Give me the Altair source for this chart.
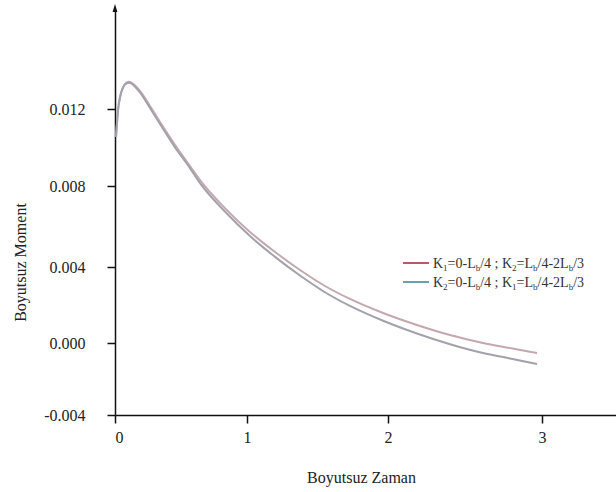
import altair as alt
import pandas as pd

# ---- data ----
t_vals = [0.008, 0.023, 0.038, 0.061, 0.085, 0.106, 0.127, 0.152, 0.189, 0.265, 0.341,
          0.455, 0.568, 0.644, 0.833, 1.021, 1.199, 1.376, 1.553, 1.730, 1.965,
          2.188, 2.403, 2.617, 2.792, 2.968]
upper = [0.01055, 0.01195, 0.01262, 0.01314, 0.01336, 0.01341, 0.01336, 0.01322, 0.01294,
         0.01216, 0.01132, 0.01013, 0.00904, 0.00831, 0.00691, 0.00573, 0.00474,
         0.00384, 0.00300, 0.00232, 0.00158, 0.00095, 0.00042, 0.00000, -0.00028,
         -0.00056]
lower = [0.01055, 0.01195, 0.01260, 0.01311, 0.01332, 0.01336, 0.01331, 0.01315, 0.01286,
         0.01205, 0.01122, 0.01000, 0.00893, 0.00815, 0.00674, 0.00553, 0.00450,
         0.00355, 0.00267, 0.00195, 0.00117, 0.00050, -0.00007, -0.00056, -0.00086,
         -0.00117]
series_names = ["A", "B"]
x_ticks = [0, 1, 2, 3]
y_ticks = [-0.004, 0.0, 0.004, 0.008, 0.012]

FONT = "Liberation Serif"
W, H = 501, 405
LEFT, TOP = 115, 10

rows = []
for t, u, l in zip(t_vals, upper, lower):
    rows.append({"t": t, "v": u, "s": "A"})
    rows.append({"t": t, "v": l, "s": "B"})
df = pd.DataFrame(rows)

xscale = alt.Scale(domain=[0, 1, 2, 3, 3.48], range=[0, 132, 273, 427, 501],
                   nice=False, zero=False)
yscale = alt.Scale(domain=[-0.004, 0.0, 0.004, 0.008, 0.012, 0.01714],
                   range=[405, 333, 257, 176, 99, 0], nice=False, zero=False)

lines = alt.Chart(df).mark_line(strokeWidth=2, interpolate="monotone").encode(
    x=alt.X("t:Q", scale=xscale,
            axis=alt.Axis(values=x_ticks, title="Boyutsuz Zaman", format="d",
                          grid=False, tickSize=8, labelPadding=6,
                          labelFontSize=16, titleFontSize=16, titleFontWeight="normal",
                          titleX=246, titleY=62, titleBaseline="middle",
                          domainColor="#111", tickColor="#111", domainWidth=1.5,
                          tickWidth=1.5, labelColor="#222", titleColor="#222",
                          labelFont=FONT, titleFont=FONT)),
    y=alt.Y("v:Q", scale=yscale,
            axis=alt.Axis(values=y_ticks, title="Boyutsuz Moment",
                          labelExpr="datum.value < 0 ? '-' + format(-datum.value, '.3f') : format(datum.value, '.3f')",
                          grid=False, tickSize=8, labelPadding=22,
                          labelFontSize=16, titleFontSize=16, titleFontWeight="normal",
                          titleX=-95, titleY=252, titleAngle=-90, titleAlign="center",
                          titleBaseline="middle",
                          domainColor="#111", tickColor="#111", domainWidth=1.5,
                          tickWidth=1.5, labelColor="#222", titleColor="#222",
                          labelFont=FONT, titleFont=FONT)),
    color=alt.Color("s:N", scale=alt.Scale(domain=series_names,
                                           range=["#c4a8b0", "#a2a2aa"]),
                    legend=None),
    order=alt.Order("t:Q"),
)

# arrow head at top of y axis
arrow = alt.Chart(pd.DataFrame({"a": [0]})).mark_point(
    shape="M0,-1L0.6,1L-0.6,1Z", filled=True, size=64, color="#111", opacity=1
).encode(x=alt.value(0), y=alt.value(-2))

# ---- manual legend (with subscripts) ----
wid = {'K': .722, '=': .564, '0': .5, '-': .333, 'L': .611, '/': .278, '4': .5,
       ' ': .25, ';': .278, '2': .5, '3': .5, '1': .5, 'b': .5}
MAIN, SUB = 14, 9

def legend_line(a, b, cy):
    parts = [("K", 0), (a, 1), ("=0-L", 0), ("b", 1), ("/4 ; K", 0), (b, 1),
             ("=L", 0), ("b", 1), ("/4-2L", 0), ("b", 1), ("/3", 0)]
    x = 433 - LEFT
    out = []
    base = cy - TOP + 5
    for txt, sub in parts:
        fs = SUB if sub else MAIN
        out.append({"px": x, "py": base + (3 if sub else 0), "txt": txt, "fs": fs})
        x += sum(wid[c] for c in txt) * fs
    return out

leg_df = pd.DataFrame(legend_line("1", "2", 263) + legend_line("2", "1", 282))
leg_text = alt.Chart(leg_df).mark_text(
    align="left", baseline="alphabetic", font=FONT, color="#333"
).encode(
    x=alt.X("px:Q", scale=None, axis=None),
    y=alt.Y("py:Q", scale=None, axis=None),
    text="txt:N",
    size=alt.Size("fs:Q", scale=None, legend=None),
)

leg_red = alt.Chart(pd.DataFrame({"a": [0]})).mark_rule(color="#a8303c", strokeWidth=1.6).encode(
    x=alt.value(403 - LEFT), x2=alt.value(429 - LEFT), y=alt.value(263 - TOP))
leg_teal = alt.Chart(pd.DataFrame({"a": [0]})).mark_rule(color="#3f8c9c", strokeWidth=1.6).encode(
    x=alt.value(403 - LEFT), x2=alt.value(429 - LEFT), y=alt.value(282 - TOP))

chart = alt.layer(lines, arrow, leg_red, leg_teal, leg_text).resolve_scale(
    x="independent", y="independent"
).properties(
    width=W, height=H,
    autosize=alt.AutoSizeParams(type="none"),
    padding={"left": LEFT, "top": TOP, "right": 0, "bottom": 492 - TOP - H},
    background="white",
).configure_view(stroke=None).configure_axis(
    labelFont=FONT, titleFont=FONT
).configure_text(font=FONT)

chart.save("out.html", embed_options={"renderer": "svg", "actions": False})
